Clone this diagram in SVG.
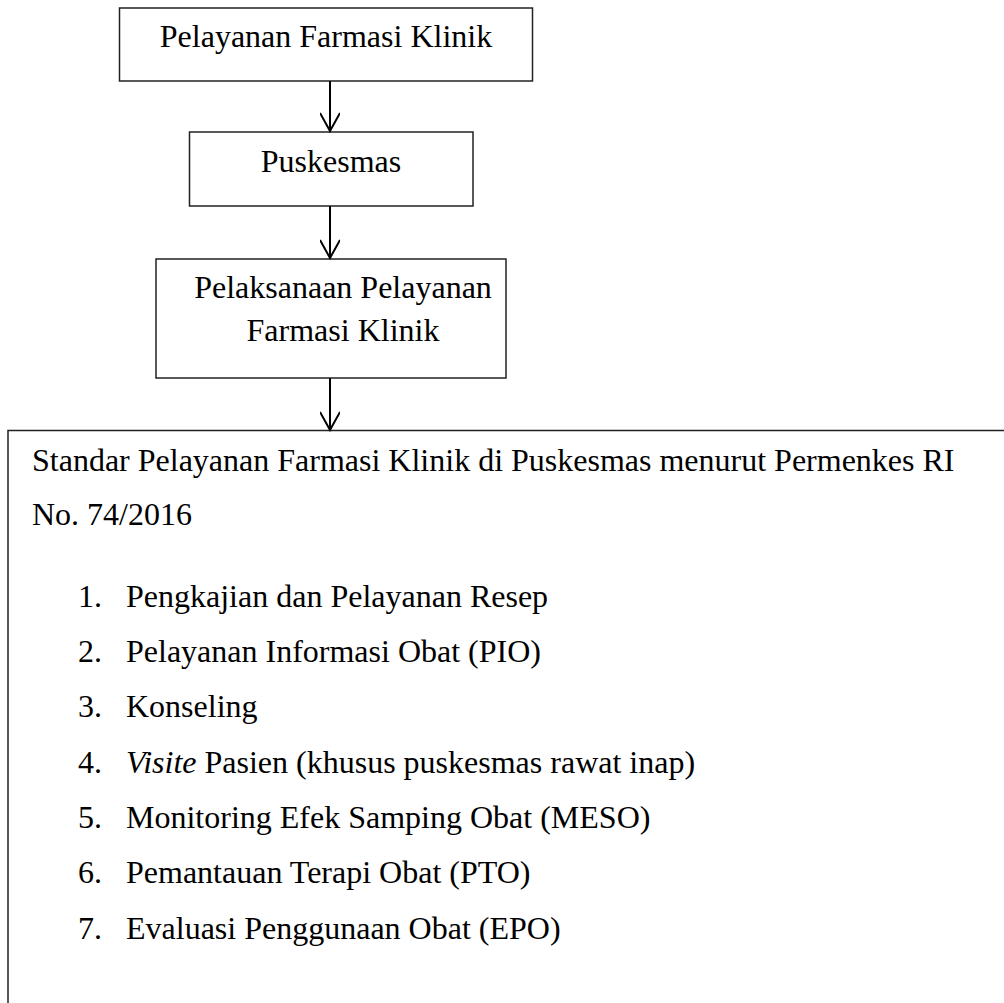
<svg xmlns="http://www.w3.org/2000/svg" width="1004" height="1003" viewBox="0 0 1004 1003">
  <style>
    .box { fill: #ffffff; stroke: #222222; stroke-width: 1.5; }
    .t { font-family: "Liberation Serif", "Times New Roman", serif; font-size: 32px; fill: #000000; }
    .c { text-anchor: middle; }
    .conn { stroke: #000000; stroke-width: 2; fill: none; }
  </style>
  <defs>
    <marker id="arr" markerUnits="userSpaceOnUse" viewBox="0 0 24 20" refX="22" refY="10" markerWidth="24" markerHeight="20" orient="auto">
      <path d="M 4 0 L 22 10 L 4 20" fill="none" stroke="#000000" stroke-width="2"/>
    </marker>
  </defs>
  <rect width="1004" height="1003" fill="#ffffff"/>

  <g id="node-pelayanan">
    <rect class="box" x="119.5" y="8" width="413" height="73"/>
    <text class="t c" x="326" y="47">Pelayanan Farmasi Klinik</text>
  </g>

  <g id="node-puskesmas">
    <rect class="box" x="189.5" y="132" width="283.5" height="74"/>
    <text class="t c" x="331" y="172">Puskesmas</text>
  </g>

  <g id="node-pelaksanaan">
    <rect class="box" x="156" y="259" width="350" height="119"/>
    <text class="t c" x="343" y="298">Pelaksanaan Pelayanan</text>
    <text class="t c" x="343" y="341">Farmasi Klinik</text>
  </g>

  <g id="node-standar">
    <rect class="box" x="8" y="430.5" width="1010" height="600"/>
    <text class="t" x="32" y="471">Standar Pelayanan Farmasi Klinik di Puskesmas menurut Permenkes RI</text>
    <text class="t" x="32" y="525">No. 74/2016</text>
    <text class="t" x="78" y="607">1.</text>
    <text class="t" x="126" y="607">Pengkajian dan Pelayanan Resep</text>
    <text class="t" x="78" y="662">2.</text>
    <text class="t" x="126" y="662">Pelayanan Informasi Obat (PIO)</text>
    <text class="t" x="78" y="717">3.</text>
    <text class="t" x="126" y="717">Konseling</text>
    <text class="t" x="78" y="773">4.</text>
    <text class="t" x="126" y="773"><tspan font-style="italic">Visite</tspan> Pasien (khusus puskesmas rawat inap)</text>
    <text class="t" x="78" y="828">5.</text>
    <text class="t" x="126" y="828">Monitoring Efek Samping Obat (MESO)</text>
    <text class="t" x="78" y="883">6.</text>
    <text class="t" x="126" y="883">Pemantauan Terapi Obat (PTO)</text>
    <text class="t" x="78" y="939">7.</text>
    <text class="t" x="126" y="939">Evaluasi Penggunaan Obat (EPO)</text>
  </g>

  <g id="connectors">
    <line class="conn" x1="330" y1="81" x2="330" y2="131" marker-end="url(#arr)"/>
    <line class="conn" x1="330" y1="206" x2="330" y2="258" marker-end="url(#arr)"/>
    <line class="conn" x1="330" y1="378" x2="330" y2="430" marker-end="url(#arr)"/>
  </g>
</svg>
